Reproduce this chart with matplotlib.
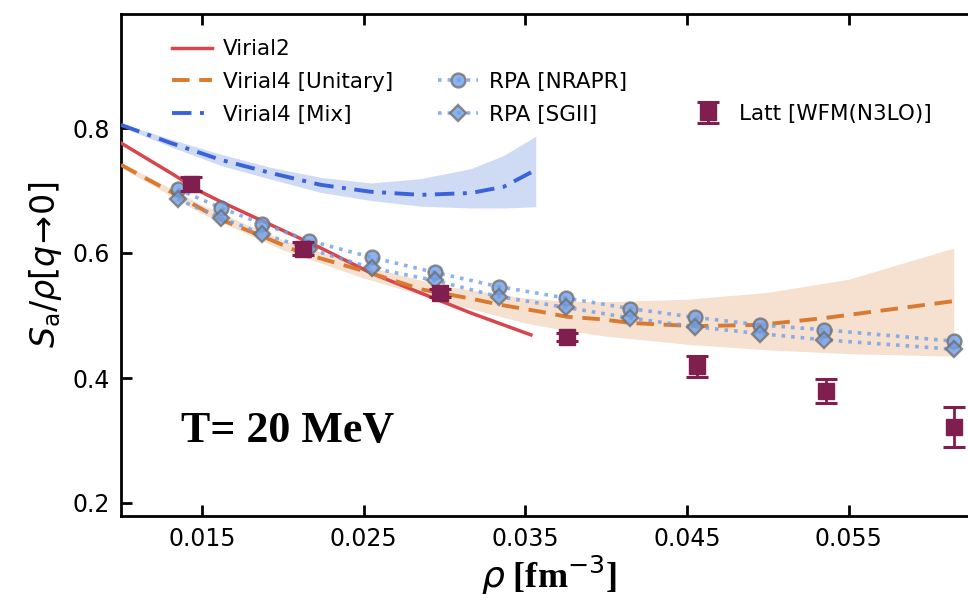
import numpy as np
import matplotlib
matplotlib.use('Agg')
import matplotlib.pyplot as plt
from matplotlib.lines import Line2D

# --- data ---
# Virial2 (solid red)
v2_rho = [0.0100, 0.01308, 0.01494, 0.01618, 0.01927, 0.02236, 0.02545, 0.02854, 0.03164, 0.03535]
v2_s = [0.776, 0.728, 0.698, 0.682, 0.645, 0.608, 0.568, 0.536, 0.504, 0.469]

# Virial4 [Unitary] (dashed orange) and its band
v4u_rho = [0.0100, 0.01364, 0.01612, 0.01871, 0.02119, 0.02545, 0.02854, 0.03164, 0.03349,
           0.03597, 0.03757, 0.0397, 0.04153, 0.04549, 0.04951, 0.05353, 0.0615]
v4u_s = [0.741, 0.690, 0.654, 0.627, 0.600, 0.568, 0.542, 0.527, 0.517,
         0.506, 0.498, 0.494, 0.488, 0.483, 0.485, 0.496, 0.523]
v4u_band_rho = [0.010, 0.015, 0.020, 0.025, 0.030, 0.035, 0.0375, 0.040, 0.045, 0.050, 0.055, 0.0615]
v4u_hi = [0.745, 0.677, 0.621, 0.580, 0.547, 0.528, 0.523, 0.522, 0.526, 0.537, 0.558, 0.608]
v4u_lo = [0.737, 0.663, 0.605, 0.560, 0.522, 0.488, 0.476, 0.467, 0.454, 0.445, 0.439, 0.435]

# Virial4 [Mix] (dash-dot blue) and its band
v4m_rho = [0.0100, 0.01308, 0.01618, 0.01927, 0.02236, 0.02545, 0.02854, 0.03164, 0.03367, 0.03565]
v4m_s = [0.805, 0.776, 0.749, 0.728, 0.709, 0.698, 0.693, 0.696, 0.706, 0.733]
v4m_hi = [0.808, 0.782, 0.758, 0.737, 0.721, 0.712, 0.719, 0.735, 0.756, 0.787]
v4m_lo = [0.802, 0.770, 0.740, 0.718, 0.697, 0.684, 0.675, 0.672, 0.672, 0.674]

# RPA
rpa_rho = [0.0135, 0.0162, 0.0187, 0.0216, 0.0255, 0.0294, 0.0334, 0.0375,
           0.0415, 0.0455, 0.0495, 0.0535, 0.0615]
rpa_nrapr = [0.702, 0.672, 0.647, 0.620, 0.593, 0.569, 0.546, 0.528,
             0.511, 0.497, 0.485, 0.477, 0.459]
rpa_sgii = [0.686, 0.656, 0.631, 0.607, 0.576, 0.556, 0.530, 0.513,
            0.496, 0.482, 0.471, 0.461, 0.446]

# Lattice WFM(N3LO)
latt_rho = [0.0143, 0.02125, 0.0297, 0.0376, 0.0456, 0.0536, 0.0615]
latt_s = [0.710, 0.607, 0.536, 0.466, 0.419, 0.379, 0.322]
latt_err = [0.011, 0.010, 0.006, 0.006, 0.017, 0.019, 0.032]

C_RED = '#d9454c'
C_ORANGE = '#d97a30'
C_ORANGE_BAND = '#f6e0d0'
C_BLUE = '#3a62da'
C_BLUE_BAND = '#cfdaf4'
C_RPA = '#6f9fe8'
C_LATT = '#801f4f'

plt.rcParams.update({'font.size': 15.5, 'mathtext.fontset': 'dejavusans'})

fig = plt.figure(figsize=(9.68, 6.0), dpi=100)
ax = fig.add_axes([121 / 968, 84 / 600, 857 / 968, 502 / 600])

ax.fill_between(v4u_band_rho, v4u_lo, v4u_hi, color=C_ORANGE_BAND, lw=0, zorder=1)
ax.fill_between(v4m_rho, v4m_lo, v4m_hi, color=C_BLUE_BAND, lw=0, zorder=1)

h_v2, = ax.plot(v2_rho, v2_s, color=C_RED, lw=2.5, zorder=3, label='Virial2')
h_v4u, = ax.plot(v4u_rho, v4u_s, color=C_ORANGE, lw=2.8, ls=(0, (4.5, 2.5)), zorder=3,
                 label='Virial4 [Unitary]')
h_v4m, = ax.plot(v4m_rho, v4m_s, color=C_BLUE, lw=2.8, ls=(0, (5, 2.2, 1, 2.2)), zorder=3,
                 label='Virial4 [Mix]')

h_nr, = ax.plot(rpa_rho, rpa_nrapr, ls=':', lw=2.6, color=C_RPA, marker='o', ms=10,
                mfc=C_RPA, mec='#707070', mew=1.7, alpha=0.8, zorder=4, label='RPA [NRAPR]')
h_sg, = ax.plot(rpa_rho, rpa_sgii, ls=':', lw=2.6, color=C_RPA, marker='D', ms=8.5,
                mfc=C_RPA, mec='#707070', mew=1.7, alpha=0.8, zorder=4, label='RPA [SGII]')

h_lt = ax.errorbar(latt_rho, latt_s, yerr=latt_err, fmt='s', ms=12, color=C_LATT,
                   ecolor=C_LATT, elinewidth=2, capsize=8, capthick=2.2, zorder=5,
                   label='Latt [WFM(N3LO)]')

ax.set_xlim(0.010, 0.063)
ax.set_ylim(0.1792, 0.9824)
ax.set_xticks([0.015, 0.025, 0.035, 0.045, 0.055])
ax.set_yticks([0.2, 0.4, 0.6, 0.8])
ax.tick_params(direction='in', length=8, width=2, top=True, right=False,
               labelsize=17, pad=8)
for sp in ax.spines.values():
    sp.set_linewidth(2)

ax.set_ylabel(r'$S_{\rm a}/\rho[q\!\to\!0]$', fontsize=24, labelpad=6)
ax.set_xlabel(r'$\rho$ [fm$^{-3}$]', fontsize=26, fontfamily='Liberation Serif',
              fontweight='bold', labelpad=2)

ax.text(0.0137, 0.298, 'T= 20 MeV', fontsize=31.7, fontfamily='Liberation Serif',
        fontweight='bold', va='baseline', ha='left')

blank = Line2D([], [], lw=0, marker=None)
leg1 = ax.legend([h_v2, h_v4u, h_v4m, blank, h_nr, h_sg],
                 ['Virial2', 'Virial4 [Unitary]', 'Virial4 [Mix]', '', 'RPA [NRAPR]', 'RPA [SGII]'],
                 ncol=2, loc='upper left', bbox_to_anchor=(0.0595, 0.950), frameon=False,
                 borderpad=0, borderaxespad=0, handlelength=1.85, handletextpad=0.5,
                 columnspacing=2.1, labelspacing=0.6, fontsize=15.5)
ax.add_artist(leg1)
ax.legend([h_lt], ['Latt [WFM(N3LO)]'], loc='upper left', bbox_to_anchor=(0.6616, 0.821),
          frameon=False, borderpad=0, borderaxespad=0, handlelength=1.85,
          handletextpad=0.5, fontsize=15.5)

fig.savefig('out.png', dpi=100)
